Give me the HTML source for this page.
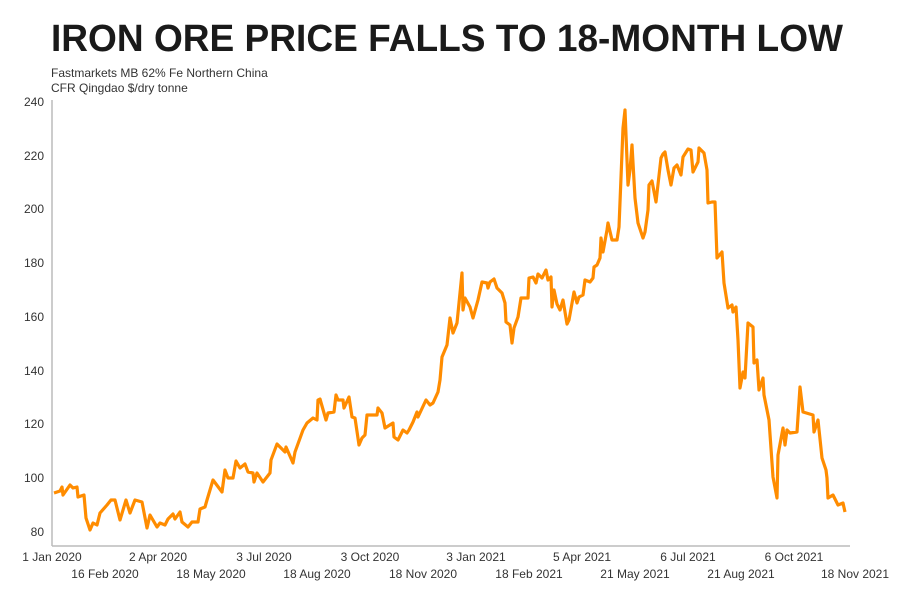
<!DOCTYPE html>
<html><head><meta charset="utf-8"><style>html,body{margin:0;padding:0;background:#fff}svg{display:block}</style></head>
<body>
<svg width="904" height="594" viewBox="0 0 904 594" xmlns="http://www.w3.org/2000/svg" font-family="Liberation Sans, sans-serif">
<text x="51" y="51" font-size="38" font-weight="bold" fill="#1a1a1a" textLength="792" lengthAdjust="spacingAndGlyphs">IRON ORE PRICE FALLS TO 18-MONTH LOW</text>
<text x="51" y="77" font-size="12" fill="#333">Fastmarkets MB 62% Fe Northern China</text>
<text x="51" y="92" font-size="12" fill="#333">CFR Qingdao $/dry tonne</text>
<line x1="52" y1="100" x2="52" y2="546" stroke="#bbb" stroke-width="1.5"/>
<line x1="52" y1="546" x2="850" y2="546" stroke="#bbb" stroke-width="1.5"/>
<g font-size="12" fill="#333" text-anchor="end">
<text x="44" y="106">240</text><text x="44" y="160">220</text><text x="44" y="213">200</text><text x="44" y="267">180</text><text x="44" y="321">160</text><text x="44" y="375">140</text><text x="44" y="428">120</text><text x="44" y="482">100</text><text x="44" y="536">80</text>
</g>
<g font-size="12" fill="#333" text-anchor="middle">
<text x="52" y="561">1 Jan 2020</text><text x="158" y="561">2 Apr 2020</text><text x="264" y="561">3 Jul 2020</text><text x="370" y="561">3 Oct 2020</text><text x="476" y="561">3 Jan 2021</text><text x="582" y="561">5 Apr 2021</text><text x="688" y="561">6 Jul 2021</text><text x="794" y="561">6 Oct 2021</text>
<text x="105" y="578">16 Feb 2020</text><text x="211" y="578">18 May 2020</text><text x="317" y="578">18 Aug 2020</text><text x="423" y="578">18 Nov 2020</text><text x="529" y="578">18 Feb 2021</text><text x="635" y="578">21 May 2021</text><text x="741" y="578">21 Aug 2021</text><text x="855" y="578">18 Nov 2021</text>
</g>
<polyline fill="none" stroke="#ff8c00" stroke-width="3.2" stroke-linejoin="round" points="54,493 60,491 62,487 63,495 70,485 73,488 77,487 78,497 84,495 86,518 90,530 93,523 97,525 100,513 107,505 111,500 115,500 120,520 126,500 130,513 135,500 142,502 147,528 150,515 157,527 160,523 165,525 168,519 173,514 175,519 180,512 182,522 188,527 192,522 198,522 200,509 205,507 207,500 213,480 222,492 225,470 228,478 233,478 236,461 240,468 245,464 248,472 253,473 254,482 257,473 263,482 270,473 271,460 277,444 285,452 286,447 293,463 295,452 303,430 307,423 313,418 317,420 318,400 320,399 326,420 328,413 334,412 336,395 338,400 343,400 344,408 349,397 352,417 355,418 359,445 362,438 365,435 367,415 377,415 378,408 382,413 385,428 393,423 394,437 398,440 403,430 407,433 409,430 413,422 417,412 418,417 426,400 430,405 433,403 438,392 440,380 442,357 447,345 450,318 453,333 457,323 462,273 463,310 465,298 470,307 473,318 478,300 482,282 487,283 488,288 490,282 494,279 497,288 502,293 505,303 506,322 510,325 512,343 514,328 518,317 521,298 528,298 529,278 533,277 536,283 538,274 542,278 546,270 548,280 551,277 552,307 554,290 557,304 560,310 563,300 567,324 569,320 574,292 577,303 579,297 583,295 585,280 590,282 593,278 594,267 597,265 600,258 601,238 603,252 607,230 608,223 612,240 617,240 619,227 623,128 625,110 628,185 630,170 632,145 635,198 638,223 643,238 645,232 648,210 649,185 652,181 656,202 661,158 663,154 665,152 668,170 671,185 674,168 677,165 681,175 683,157 688,149 691,150 693,172 698,162 699,148 704,153 707,170 708,203 712,202 715,202 717,258 722,252 724,283 728,308 732,305 733,312 736,307 738,340 740,388 743,372 745,378 748,323 753,327 754,363 757,360 759,390 763,378 764,395 769,420 773,477 777,498 778,455 783,428 785,445 787,430 790,433 797,432 800,387 803,412 813,415 814,432 818,420 822,458 826,470 827,478 828,498 833,495 838,505 843,503 845,512"/>
</svg>
</body></html>
